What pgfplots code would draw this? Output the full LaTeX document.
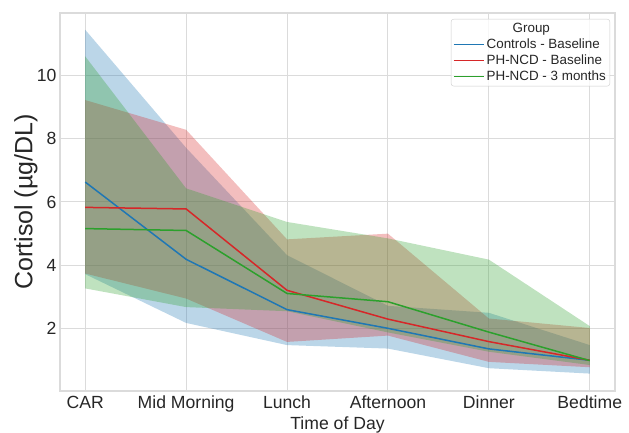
\documentclass[border=0pt]{standalone}
\usepackage{pgfplots}
\pgfplotsset{compat=1.18}
\usepackage{pgfplotstable}
\usepgfplotslibrary{fillbetween}
\usepackage{fontspec}
\setmainfont{Liberation Sans}

\definecolor{tabblue}{HTML}{1F77B4}
\definecolor{tabred}{HTML}{D62728}
\definecolor{tabgreen}{HTML}{2CA02C}
\definecolor{gridgray}{gray}{0.86}
\definecolor{txt}{gray}{0.15}

\pgfplotstableread{
x mean lo hi
0 6.63 3.72 11.44
1 4.19 2.18 7.71
2 2.60 1.48 4.32
3 2.01 1.37 2.72
4 1.36 0.75 2.50
5 1.00 0.58 1.48
}\controls

\pgfplotstableread{
x mean lo hi
0 5.83 3.74 9.22
1 5.78 2.95 8.28
2 3.21 1.58 4.82
3 2.30 1.78 5.00
4 1.59 0.95 2.32
5 1.00 0.78 2.02
}\phbase

\pgfplotstableread{
x mean lo hi
0 5.16 3.27 10.60
1 5.10 2.68 6.43
2 3.11 2.55 5.37
3 2.85 1.88 4.85
4 1.89 1.27 4.18
5 0.99 0.85 2.08
}\phthree

\begin{document}
\begin{tikzpicture}
\begin{axis}[
  scale only axis,
  width=555pt, height=378pt,
  xmin=-0.25, xmax=5.25,
  ymin=0.03, ymax=11.97,
  xtick={0,1,2,3,4,5},
  xticklabels={CAR, Mid Morning, Lunch, Afternoon, Dinner, Bedtime},
  ytick={2,4,6,8,10},
  major tick length=0pt,
  grid=major,
  grid style={gridgray, line width=1pt},
  axis line style={gridgray, line width=1.25pt},
  /pgf/number format/assume math mode=true,
  tick label style={font=\fontsize{17.6}{20}\selectfont, text=txt},
  xticklabel style={yshift=-1.5pt},
  xlabel={Time of Day},
  ylabel={Cortisol (µg/DL)},
  xlabel style={font=\fontsize{17.6}{20}\selectfont, text=txt, at={(axis description cs:0.5,-0.09)}, anchor=center},
  ylabel style={font=\fontsize{25}{28}\selectfont, text=txt, at={(axis description cs:-0.0613,0.5)}, anchor=center},
  legend cell align=left,
  legend style={at={(axis description cs:1,1)}, anchor=north east, xshift=-5pt, yshift=-6pt,
    draw=black!20, rounded corners=2.5pt, fill=white, fill opacity=0.8, text opacity=1,
    font=\fontsize{13.4}{15}\selectfont, text=txt, inner xsep=2pt, inner ysep=2pt,
    row sep=0.8pt},
  legend image code/.code={\draw[#1, line width=1.5pt] (0pt,0pt) -- (26pt,0pt); \path (0pt,0pt) -- (30pt,0pt);},
]
\addlegendimage{empty legend}
\addlegendentry{\hspace*{26pt}Group}

\addplot[name path=cu, draw=none, forget plot] table[x=x, y=hi] {\controls};
\addplot[name path=cl, draw=none, forget plot] table[x=x, y=lo] {\controls};
\addplot[tabblue, fill opacity=0.3, draw=none, forget plot] fill between[of=cu and cl];

\addplot[name path=ru, draw=none, forget plot] table[x=x, y=hi] {\phbase};
\addplot[name path=rl, draw=none, forget plot] table[x=x, y=lo] {\phbase};
\addplot[tabred, fill opacity=0.3, draw=none, forget plot] fill between[of=ru and rl];

\addplot[name path=gu, draw=none, forget plot] table[x=x, y=hi] {\phthree};
\addplot[name path=gl, draw=none, forget plot] table[x=x, y=lo] {\phthree};
\addplot[tabgreen, fill opacity=0.3, draw=none, forget plot] fill between[of=gu and gl];

\addplot[tabblue, line width=1.5pt, no marks] table[x=x, y=mean] {\controls};
\addlegendentry{Controls - Baseline}
\addplot[tabred, line width=1.5pt, no marks] table[x=x, y=mean] {\phbase};
\addlegendentry{PH-NCD - Baseline}
\addplot[tabgreen, line width=1.5pt, no marks] table[x=x, y=mean] {\phthree};
\addlegendentry{PH-NCD - 3 months}
\end{axis}
\pgfresetboundingbox
\path[use as bounding box] (-60pt,-42pt) rectangle (569pt,391pt);
\end{tikzpicture}
\end{document}
